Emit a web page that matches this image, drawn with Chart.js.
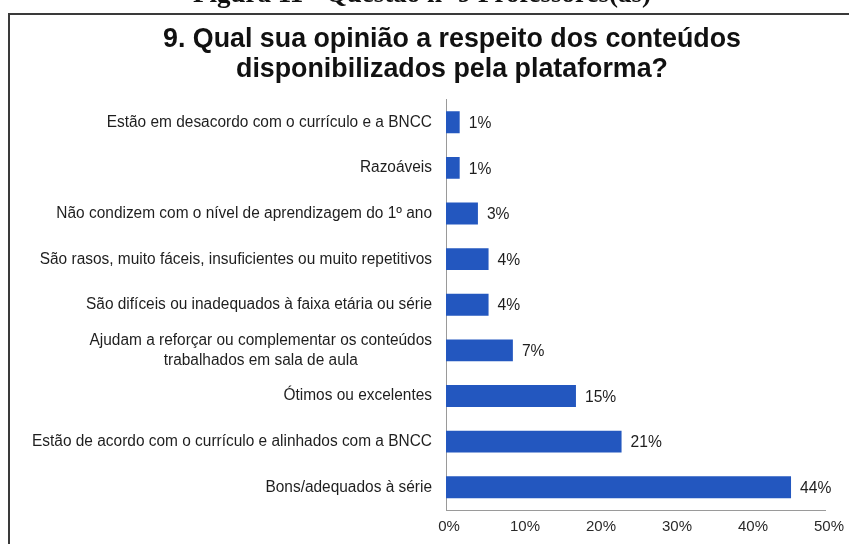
<!DOCTYPE html>
<html>
<head>
<meta charset="utf-8">
<script src="https://cdn.jsdelivr.net/npm/chart.js@4.4.1/dist/chart.umd.min.js"></script>
<style>
html,body{margin:0;padding:0;background:#fff;width:849px;height:544px;overflow:hidden;}
canvas{display:block;}
</style>
</head>
<body>
<canvas id="c" width="849" height="544"></canvas>
<script>
// ---- data ----
const captionText = "Figura 11 - Questão nº 9 Professores(as)";
const titleLines = ["9. Qual sua opinião a respeito dos conteúdos", "disponibilizados pela plataforma?"];
const categories = [
  ["Estão em desacordo com o currículo e a BNCC"],
  ["Razoáveis"],
  ["Não condizem com o nível de aprendizagem do 1º ano"],
  ["São rasos, muito fáceis, insuficientes ou muito repetitivos"],
  ["São difíceis ou inadequados à faixa etária ou série"],
  ["Ajudam a reforçar ou complementar os conteúdos", "trabalhados em sala de aula"],
  ["Ótimos ou excelentes"],
  ["Estão de acordo com o currículo e alinhados com a BNCC"],
  ["Bons/adequados à série"]
];
const barValues = [1.8, 1.8, 4.2, 5.6, 5.6, 8.8, 17.1, 23.1, 45.4];
const valueLabels = ["1%", "1%", "3%", "4%", "4%", "7%", "15%", "21%", "44%"];
const xTickValues = [0, 10, 20, 30, 40, 50];

// ---- styles ----
const BAR_COLOR = "#2357bf";
const TEXT_COLOR = "#1e1e1e";
const FONT = "'Liberation Sans', Arial, sans-serif";

function condensedText(ctx, text, x, y, align, sx) {
  ctx.save();
  ctx.translate(x, y);
  ctx.scale(sx, 1);
  ctx.textAlign = align;
  ctx.fillText(text, 0, 0);
  ctx.restore();
}

const decorPlugin = {
  id: "decor",
  beforeDraw(chart) {
    const ctx = chart.ctx;
    ctx.save();
    ctx.fillStyle = "#fff";
    ctx.fillRect(0, 0, chart.width, chart.height);
    // partially visible caption
    ctx.fillStyle = "#111";
    ctx.font = "bold 27px 'Liberation Serif', 'Times New Roman', serif";
    ctx.textBaseline = "alphabetic";
    ctx.textAlign = "center";
    ctx.fillText(captionText, 422, 2);
    // frame
    ctx.strokeStyle = "#3a3a3a";
    ctx.lineWidth = 2;
    ctx.strokeRect(9, 14, 900, 600);
    // title
    ctx.fillStyle = "#111";
    ctx.font = "bold 27px " + FONT;
    ctx.textBaseline = "middle";
    const sxT = 578 / ctx.measureText(titleLines[0]).width;
    condensedText(ctx, titleLines[0], 452, 40, "center", sxT);
    condensedText(ctx, titleLines[1], 452, 70, "center", sxT);
    ctx.restore();
  },
  afterDraw(chart) {
    const ctx = chart.ctx;
    const yScale = chart.scales.y;
    ctx.save();
    ctx.fillStyle = TEXT_COLOR;
    ctx.font = "16px " + FONT;
    ctx.textBaseline = "middle";
    const sxL = 400 / ctx.measureText(categories[7][0]).width;
    const right = yScale.left - 14;
    categories.forEach((lines, i) => {
      const yc = yScale.getPixelForValue(i);
      const widths = lines.map(l => ctx.measureText(l).width * sxL);
      const maxW = Math.max(...widths);
      const lh = 20;
      lines.forEach((l, j) => {
        const y = yc + (j - (lines.length - 1) / 2) * lh;
        const cx = right - maxW / 2;
        condensedText(ctx, l, cx, y, "center", sxL);
      });
    });
    // value labels
    ctx.font = "17px " + FONT;
    const meta = chart.getDatasetMeta(0);
    meta.data.forEach((bar, i) => {
      condensedText(ctx, valueLabels[i], bar.x + 9, bar.y + 1, "left", 0.92);
    });
    ctx.restore();
  }
};

new Chart(document.getElementById("c"), {
  type: "bar",
  data: {
    labels: categories,
    datasets: [{
      data: barValues,
      backgroundColor: BAR_COLOR,
      borderWidth: 0,
      barPercentage: 0.48,
      categoryPercentage: 1
    }]
  },
  options: {
    indexAxis: "y",
    responsive: false,
    devicePixelRatio: 1,
    animation: false,
    layout: { padding: { left: 446, top: 99.5, right: 18, bottom: 0 } },
    plugins: { legend: { display: false }, tooltip: { enabled: false }, title: { display: false } },
    scales: {
      x: {
        min: 0, max: 50,
        afterBuildTicks(scale) { scale.ticks = xTickValues.map(v => ({ value: v })); },
        grid: { display: false, drawTicks: false },
        border: { display: true, color: "#9a9a9a", width: 1 },
        ticks: {
          padding: 8,
          labelOffset: 3,
          color: "#2a2a2a",
          font: { family: FONT, size: 15 },
          callback: v => v + "%"
        }
      },
      y: {
        grid: { display: false, drawTicks: false },
        border: { display: true, color: "#9a9a9a", width: 1 },
        ticks: { display: false }
      }
    }
  },
  plugins: [decorPlugin]
});
</script>
</body>
</html>
